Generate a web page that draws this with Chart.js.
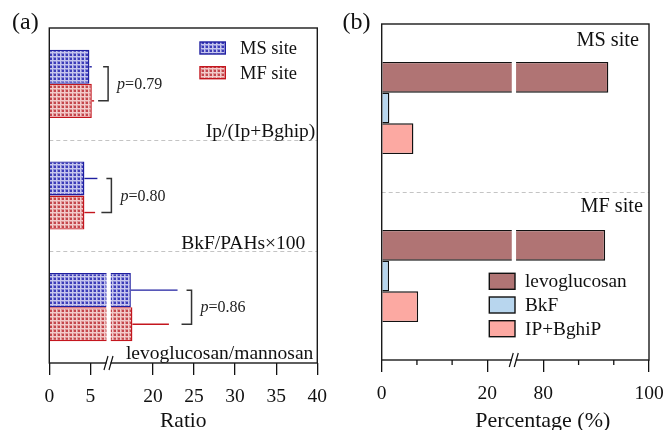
<!DOCTYPE html>
<html>
<head>
<meta charset="utf-8">
<script src="https://cdn.jsdelivr.net/npm/chart.js@4"></script>
<style>
  html, body { margin: 0; padding: 0; background: #fff; }
  #wrap { position: relative; width: 667px; height: 430px; background: #fff; }
  #ca { position: absolute; left: 0; top: 0; }
  #cb { position: absolute; left: 333px; top: 0; }
</style>
</head>
<body>
<div id="wrap">
  <canvas id="ca" width="333" height="430"></canvas>
  <canvas id="cb" width="334" height="430"></canvas>
</div>
<script>
// ---- Panel (a): diagnostic ratios at the two sites ----
const ratioCategories = ['Ip/(Ip+Bghip)', 'BkF/PAHs×100', 'levoglucosan/mannosan'];
const msRatio   = [4.88, 4.27, 17.32];
const msRatioSd = [0.29, 1.58, 5.68];
const mfRatio   = [5.17, 4.27, 17.51];
const mfRatioSd = [0.28, 1.30, 4.44];
const pValues   = ['0.79', '0.80', '0.86'];
const ratioTicks = [0, 5, 20, 25, 30, 35, 40];
const ratioBreak = [7.2, 14.6];

// ---- Panel (b): tracer shares (%) ----
const siteCategories  = ['MS site', 'MF site'];
const levoglucosanPct = [92.3, 91.7];
const bkfPct          = [1.45, 1.4];
const ipBghipPct      = [6.0, 6.9];
const pctTicks      = [0, 20, 80, 100];
const pctMinorTicks = [6.67, 13.33, 86.67, 93.33];
const pctBreak = [25, 74.4];

const SERIF = "'Liberation Serif', 'Times New Roman', serif";
Chart.defaults.font.family = SERIF;
Chart.defaults.color = '#111';

// map a real value onto a broken axis
function squeeze(v, brk) {
  if (v <= brk[0]) return v;
  if (v >= brk[1]) return v - (brk[1] - brk[0]);
  return brk[0];
}

// checkered fill used by the ratio bars
function checker(bg, line, dot) {
  const c = document.createElement('canvas');
  c.width = 4; c.height = 4;
  const g = c.getContext('2d');
  g.fillStyle = bg; g.fillRect(0, 0, 4, 4);
  g.fillStyle = line; g.fillRect(0, 0, 4, 1); g.fillRect(0, 0, 1, 4);
  g.fillStyle = dot; g.fillRect(2, 2, 2, 2);
  return g.createPattern(c, 'repeat');
}
const bluePattern = checker('#8787d6', '#c6c6ee', '#3c3cb8');
const redPattern  = checker('#de9494', '#f3cbcb', '#c4464c');

function drawBreakMark(ctx, x, y) {
  ctx.save();
  ctx.fillStyle = '#fff';
  ctx.fillRect(x - 2, y - 1.5, 4, 3);
  ctx.strokeStyle = '#111';
  ctx.lineWidth = 1.2;
  ctx.beginPath();
  ctx.moveTo(x - 4.5, y + 7); ctx.lineTo(x - 0.5, y - 7);
  ctx.moveTo(x + 0.5, y + 7); ctx.lineTo(x + 4.5, y - 7);
  ctx.stroke();
  ctx.restore();
}

function cutBars(chart, brk) {
  const ctx = chart.ctx;
  const bx = chart.scales.x.getPixelForValue(brk[0]);
  ctx.save();
  ctx.fillStyle = '#fff';
  chart.data.datasets.forEach((ds, di) => {
    chart.getDatasetMeta(di).data.forEach(el => {
      if (el.x > bx + 3) ctx.fillRect(bx - 2, el.y - el.height / 2 - 1, 4.3, el.height + 2);
    });
  });
  ctx.restore();
}

function dashedSeparators(chart) {
  const ctx = chart.ctx, ys = chart.scales.y, a = chart.chartArea;
  ctx.save();
  ctx.strokeStyle = '#c4c4c4';
  ctx.lineWidth = 1;
  ctx.setLineDash([4, 3]);
  for (let i = 0; i < chart.data.labels.length - 1; i++) {
    const y = Math.round((ys.getPixelForValue(i) + ys.getPixelForValue(i + 1)) / 2) + 0.5;
    ctx.beginPath(); ctx.moveTo(a.left, y); ctx.lineTo(a.right, y); ctx.stroke();
  }
  ctx.restore();
}

function frame(chart) {
  const ctx = chart.ctx, a = chart.chartArea;
  ctx.save();
  ctx.strokeStyle = '#1a1a1a';
  ctx.lineWidth = 1.4;
  ctx.strokeRect(a.left, a.top, a.right - a.left, a.bottom - a.top);
  ctx.restore();
}

const ratioPlugin = {
  id: 'ratioDecor',
  beforeDatasetsDraw(chart) { dashedSeparators(chart); },
  afterDatasetsDraw(chart) {
    const ctx = chart.ctx, a = chart.chartArea, xs = chart.scales.x, ys = chart.scales.y;
    cutBars(chart, ratioBreak);
    frame(chart);
    drawBreakMark(ctx, xs.getPixelForValue(ratioBreak[0]), a.bottom);

    // one-sided error bars
    const errEnds = [[], []];
    chart.data.datasets.forEach((ds, di) => {
      const meta = chart.getDatasetMeta(di);
      ctx.save();
      ctx.strokeStyle = ds.borderColor;
      ctx.lineWidth = 1.4;
      meta.data.forEach((el, i) => {
        const xe = xs.getPixelForValue(squeeze(ds.raw[i] + ds.sd[i], ratioBreak));
        errEnds[di][i] = xe;
        ctx.beginPath(); ctx.moveTo(el.x, el.y); ctx.lineTo(xe, el.y); ctx.stroke();
      });
      ctx.restore();
    });

    // significance brackets with p values
    const m0 = chart.getDatasetMeta(0).data, m1 = chart.getDatasetMeta(1).data;
    pValues.forEach((p, i) => {
      const bx = Math.max(errEnds[0][i], errEnds[1][i]) + 14;
      const y0 = m0[i].y, y1 = m1[i].y;
      ctx.save();
      ctx.strokeStyle = '#333';
      ctx.lineWidth = 1.5;
      ctx.beginPath();
      ctx.moveTo(bx - 5, y0); ctx.lineTo(bx, y0); ctx.lineTo(bx, y1); ctx.lineTo(bx - 10, y1);
      ctx.stroke();
      ctx.fillStyle = '#222';
      ctx.textBaseline = 'middle';
      ctx.textAlign = 'left';
      const ym = (y0 + y1) / 2 + 1;
      ctx.font = 'italic 16px ' + SERIF;
      ctx.fillText('p', bx + 9, ym);
      const w = ctx.measureText('p').width;
      ctx.font = '16px ' + SERIF;
      ctx.fillText('=' + p, bx + 9 + w, ym);
      ctx.restore();
    });

    // category names inside the plot
    const insets = [2, 12, 4];
    ctx.save();
    ctx.fillStyle = '#111';
    ctx.font = '19.5px ' + SERIF;
    ctx.textAlign = 'right';
    ctx.textBaseline = 'alphabetic';
    ratioCategories.forEach((lab, i) => {
      let yb;
      if (i < ratioCategories.length - 1) {
        yb = (ys.getPixelForValue(i) + ys.getPixelForValue(i + 1)) / 2 - 2.5;
      } else {
        yb = a.bottom - 3.7;
      }
      ctx.fillText(lab, a.right - insets[i], yb);
    });
    ctx.restore();

    // legend
    ctx.save();
    ctx.font = '18.5px ' + SERIF;
    ctx.textBaseline = 'middle';
    ctx.textAlign = 'left';
    chart.data.datasets.forEach((ds, di) => {
      const cy = 48 + di * 24.7;
      ctx.fillStyle = ds.backgroundColor;
      ctx.fillRect(200, cy - 6, 25.3, 12);
      ctx.strokeStyle = ds.borderColor;
      ctx.lineWidth = 1.4;
      ctx.strokeRect(200, cy - 6, 25.3, 12);
      ctx.fillStyle = '#111';
      ctx.fillText(ds.label, 240, cy + 1);
    });
    ctx.restore();

    // panel tag and axis title
    ctx.save();
    ctx.fillStyle = '#111';
    ctx.font = '24px ' + SERIF;
    ctx.textBaseline = 'middle';
    ctx.fillText('(a)', 12, 23);
    ctx.font = '21.5px ' + SERIF;
    ctx.textAlign = 'center';
    ctx.fillText('Ratio', (a.left + a.right) / 2, 421);
    ctx.restore();
  }
};

const pctPlugin = {
  id: 'pctDecor',
  beforeDatasetsDraw(chart) { dashedSeparators(chart); },
  afterDatasetsDraw(chart) {
    const ctx = chart.ctx, a = chart.chartArea, xs = chart.scales.x, ys = chart.scales.y;
    cutBars(chart, pctBreak);
    frame(chart);

    // minor ticks
    ctx.save();
    ctx.strokeStyle = '#111';
    ctx.lineWidth = 1.3;
    pctMinorTicks.forEach(v => {
      const x = xs.getPixelForValue(squeeze(v, pctBreak));
      ctx.beginPath(); ctx.moveTo(x, a.bottom); ctx.lineTo(x, a.bottom + 5); ctx.stroke();
    });
    ctx.restore();
    drawBreakMark(ctx, xs.getPixelForValue(pctBreak[0]), a.bottom);

    // site names
    const band = (ys.getPixelForValue(1) - ys.getPixelForValue(0));
    ctx.save();
    ctx.fillStyle = '#111';
    ctx.font = '20.3px ' + SERIF;
    ctx.textAlign = 'right';
    ctx.textBaseline = 'middle';
    siteCategories.forEach((lab, i) => {
      const top = ys.getPixelForValue(i) - band / 2;
      ctx.fillText(lab, a.right - (i === 0 ? 10 : 6), top + (i === 0 ? 17 : 14.5));
    });
    ctx.restore();

    // legend
    ctx.save();
    ctx.font = '19.3px ' + SERIF;
    ctx.textBaseline = 'middle';
    ctx.textAlign = 'left';
    chart.data.datasets.forEach((ds, di) => {
      const cy = 281.3 + di * 23.7;
      ctx.fillStyle = ds.backgroundColor;
      ctx.fillRect(156.3, cy - 8, 25.7, 16);
      ctx.strokeStyle = '#111';
      ctx.lineWidth = 1.4;
      ctx.strokeRect(156.3, cy - 8, 25.7, 16);
      ctx.fillStyle = '#111';
      ctx.fillText(ds.label, 192, cy + 1);
    });
    ctx.restore();

    // panel tag and axis title
    ctx.save();
    ctx.fillStyle = '#111';
    ctx.font = '24px ' + SERIF;
    ctx.textBaseline = 'middle';
    ctx.fillText('(b)', 9.5, 23);
    ctx.font = '22px ' + SERIF;
    ctx.textAlign = 'center';
    ctx.fillText('Percentage (%)', 209.8, 421);
    ctx.restore();
  }
};

function xAxis(ticksReal, brk, axisHeight) {
  return {
    type: 'linear',
    min: 0,
    max: ticksReal[ticksReal.length - 1] - (brk[1] - brk[0]),
    afterBuildTicks: s => { s.ticks = ticksReal.map(v => ({ value: squeeze(v, brk) })); },
    afterFit: s => {
      s.height = axisHeight;
      // the end labels fit inside the fixed margins
      s.paddingLeft = 0;
      s.paddingRight = 0;
    },
    ticks: {
      callback: (v, i) => String(ticksReal[i]),
      font: { family: SERIF, size: 19.5 },
      color: '#111',
      padding: 10.5,
      maxRotation: 0,
      autoSkip: false
    },
    grid: { drawOnChartArea: false, drawTicks: true, tickLength: 12, color: '#111', lineWidth: 1.3 },
    border: { display: false }
  };
}

new Chart(document.getElementById('ca'), {
  type: 'bar',
  data: {
    labels: ratioCategories,
    datasets: [
      { label: 'MS site', data: msRatio.map(v => squeeze(v, ratioBreak)), raw: msRatio, sd: msRatioSd,
        backgroundColor: bluePattern, borderColor: '#1f1fa0', borderWidth: 1.4 },
      { label: 'MF site', data: mfRatio.map(v => squeeze(v, ratioBreak)), raw: mfRatio, sd: mfRatioSd,
        backgroundColor: redPattern, borderColor: '#c4161e', borderWidth: 1.4 }
    ]
  },
  options: {
    indexAxis: 'y',
    responsive: false,
    animation: false,
    layout: { padding: { left: 49.3, right: 15.7, top: 28, bottom: 0 } },
    datasets: { bar: { categoryPercentage: 0.61, barPercentage: 1 } },
    plugins: { legend: { display: false }, tooltip: { enabled: false } },
    scales: {
      y: { display: false },
      x: xAxis(ratioTicks, ratioBreak, 67)
    }
  },
  plugins: [ratioPlugin]
});

new Chart(document.getElementById('cb'), {
  type: 'bar',
  data: {
    labels: siteCategories,
    datasets: [
      { label: 'levoglucosan', data: levoglucosanPct.map(v => squeeze(v, pctBreak)),
        backgroundColor: '#b07474', borderColor: '#111', borderWidth: 1.4 },
      { label: 'BkF', data: bkfPct.map(v => squeeze(v, pctBreak)),
        backgroundColor: '#b8d6ee', borderColor: '#111', borderWidth: 1.4 },
      { label: 'IP+BghiP', data: ipBghipPct.map(v => squeeze(v, pctBreak)),
        backgroundColor: '#fca9a2', borderColor: '#111', borderWidth: 1.4 }
    ]
  },
  options: {
    indexAxis: 'y',
    responsive: false,
    animation: false,
    layout: { padding: { left: 48.7, right: 18, top: 24, bottom: 0 } },
    datasets: { bar: { categoryPercentage: 0.548, barPercentage: 1 } },
    plugins: { legend: { display: false }, tooltip: { enabled: false } },
    scales: {
      y: { display: false },
      x: xAxis(pctTicks, pctBreak, 70)
    }
  },
  plugins: [pctPlugin]
});
</script>
</body>
</html>
